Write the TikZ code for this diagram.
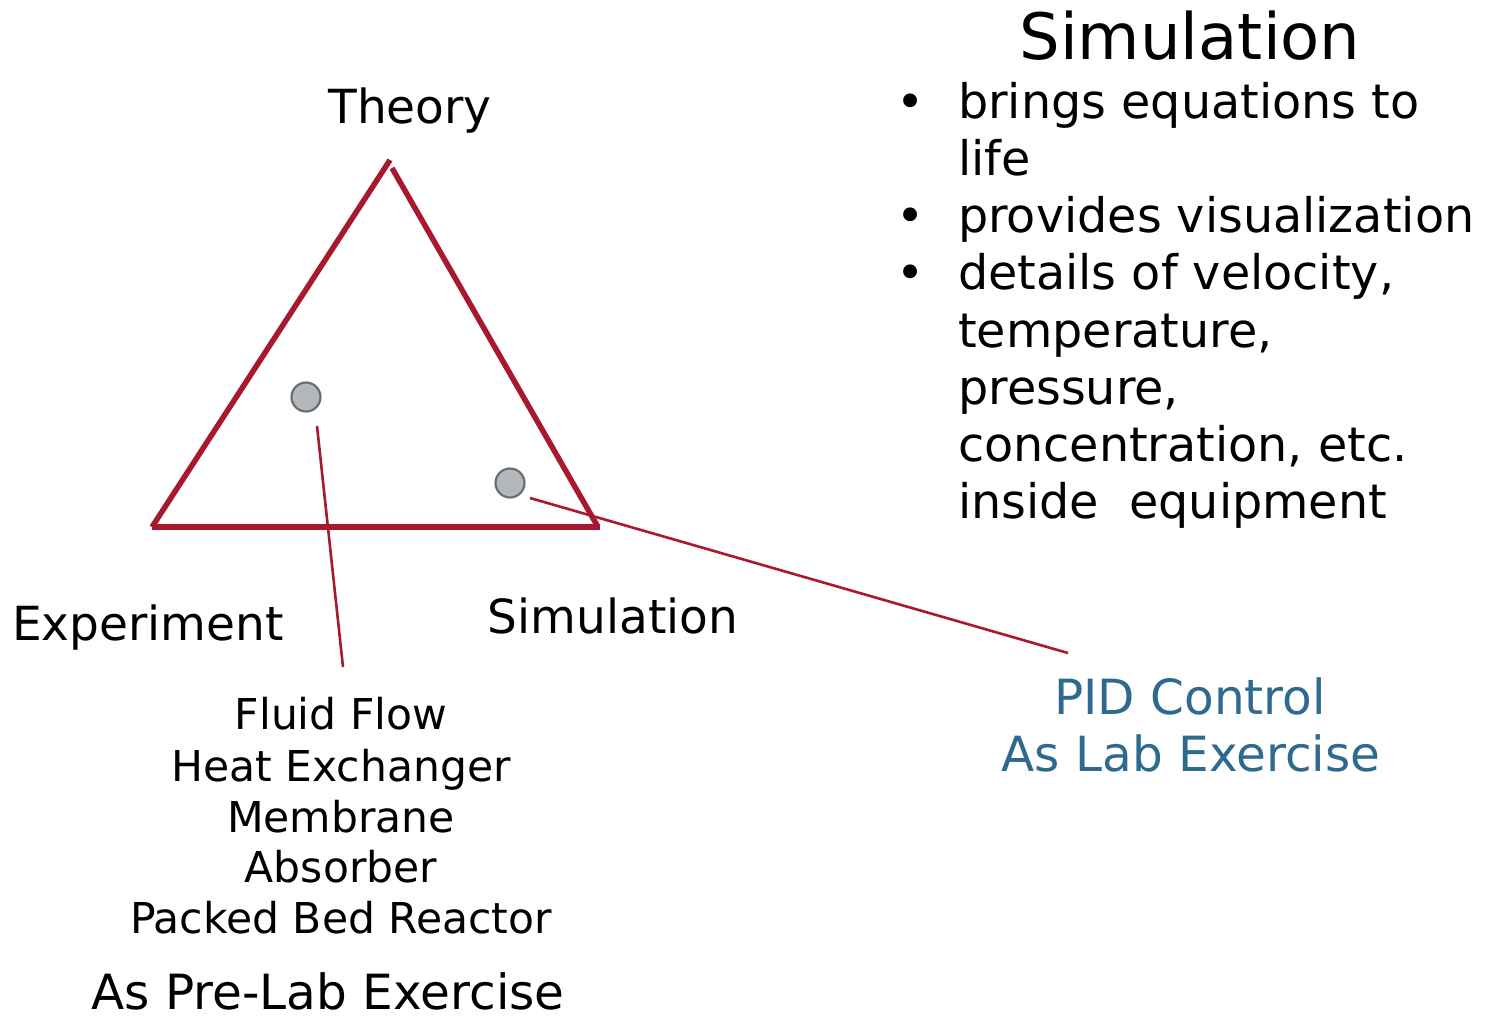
\documentclass[tikz,border=0pt]{standalone}
\usepackage{fontspec}
\setmainfont{DejaVu Sans}
\definecolor{tri}{HTML}{A8192E}
\definecolor{pid}{HTML}{2E6A8E}
\definecolor{dotfill}{HTML}{B3B8BC}
\definecolor{dotline}{HTML}{6E6E6E}
\begin{document}
\begin{tikzpicture}[x=1pt,y=-1pt,
  edge/.style={draw=tri,line width=5.5pt},
  leader/.style={draw=tri,line width=2.6pt},
  dot/.style={circle,fill=dotfill,draw=dotline,line width=2.2pt,minimum size=29pt,inner sep=0pt},
  big/.style={font=\fontsize{47}{57}\selectfont,inner sep=0pt,anchor=base},
  bigger/.style={font=\fontsize{48.5}{57}\selectfont,inner sep=0pt,anchor=base},
  small/.style={font=\fontsize{42.5}{51}\selectfont,inner sep=0pt,anchor=base}]
\useasboundingbox (0,0) rectangle (1487,1015);
% triangle
\coordinate (A) at (152,527);
\coordinate (T1) at (390,160);
\coordinate (T2) at (392,168);
\coordinate (B) at (598,527);
\coordinate (B2) at (600,527);
\draw[edge] (A) -- (T1);
\draw[edge] (T2) -- (B);
\draw[edge] (A) -- (B2);
% dots
\node[dot] (d1) at (306,397) {};
\node[dot] (d2) at (510,483) {};
% leaders
\coordinate (l1s) at (317,426);
\coordinate (l1e) at (343,667);
\coordinate (l2s) at (530,498);
\coordinate (l2e) at (1068,653);
\draw[leader] (l1s) -- (l1e);
\draw[leader] (l2s) -- (l2e);
% labels
\node[big] (theory) at (410,123) {Theory};
\node[big] (exp) at (148,640) {Experiment};
\node[big] (sim) at (613,633) {Simulation};
% list
\node[small] (f1) at (341,729) {Fluid Flow};
\node[small] (f2) at (341,781) {Heat Exchanger};
\node[small] (f3) at (341,832) {Membrane};
\node[small] (f4) at (341,882) {Absorber};
\node[small] (f5) at (341,933) {Packed Bed Reactor};
\node[bigger,text depth=0pt] (pre) at (328,1009) {As Pre-Lab Exercise};
% PID
\node[bigger,text=pid] (pid1) at (1190,714) {PID Control};
\node[bigger,text=pid] (pid2) at (1191,771) {As Lab Exercise};
% right text
\node[font=\fontsize{64}{77}\selectfont,inner sep=0pt,anchor=base] (title) at (1190,59) {Simulation};
\node[font=\fontsize{47.6}{57.2}\selectfont,inner sep=0pt,anchor=north west] (body) at (893,78)
 {\begin{tabular}{@{}p{65pt}@{}l@{}}
 \hspace{3pt}• & brings equations to\\
   & life\\
 \hspace{3pt}• & provides visualization\\
 \hspace{3pt}• & details of velocity,\\
   & temperature,\\
   & pressure,\\
   & concentration, etc.\\
   & inside\ \ equipment
 \end{tabular}};
\end{tikzpicture}
\end{document}
